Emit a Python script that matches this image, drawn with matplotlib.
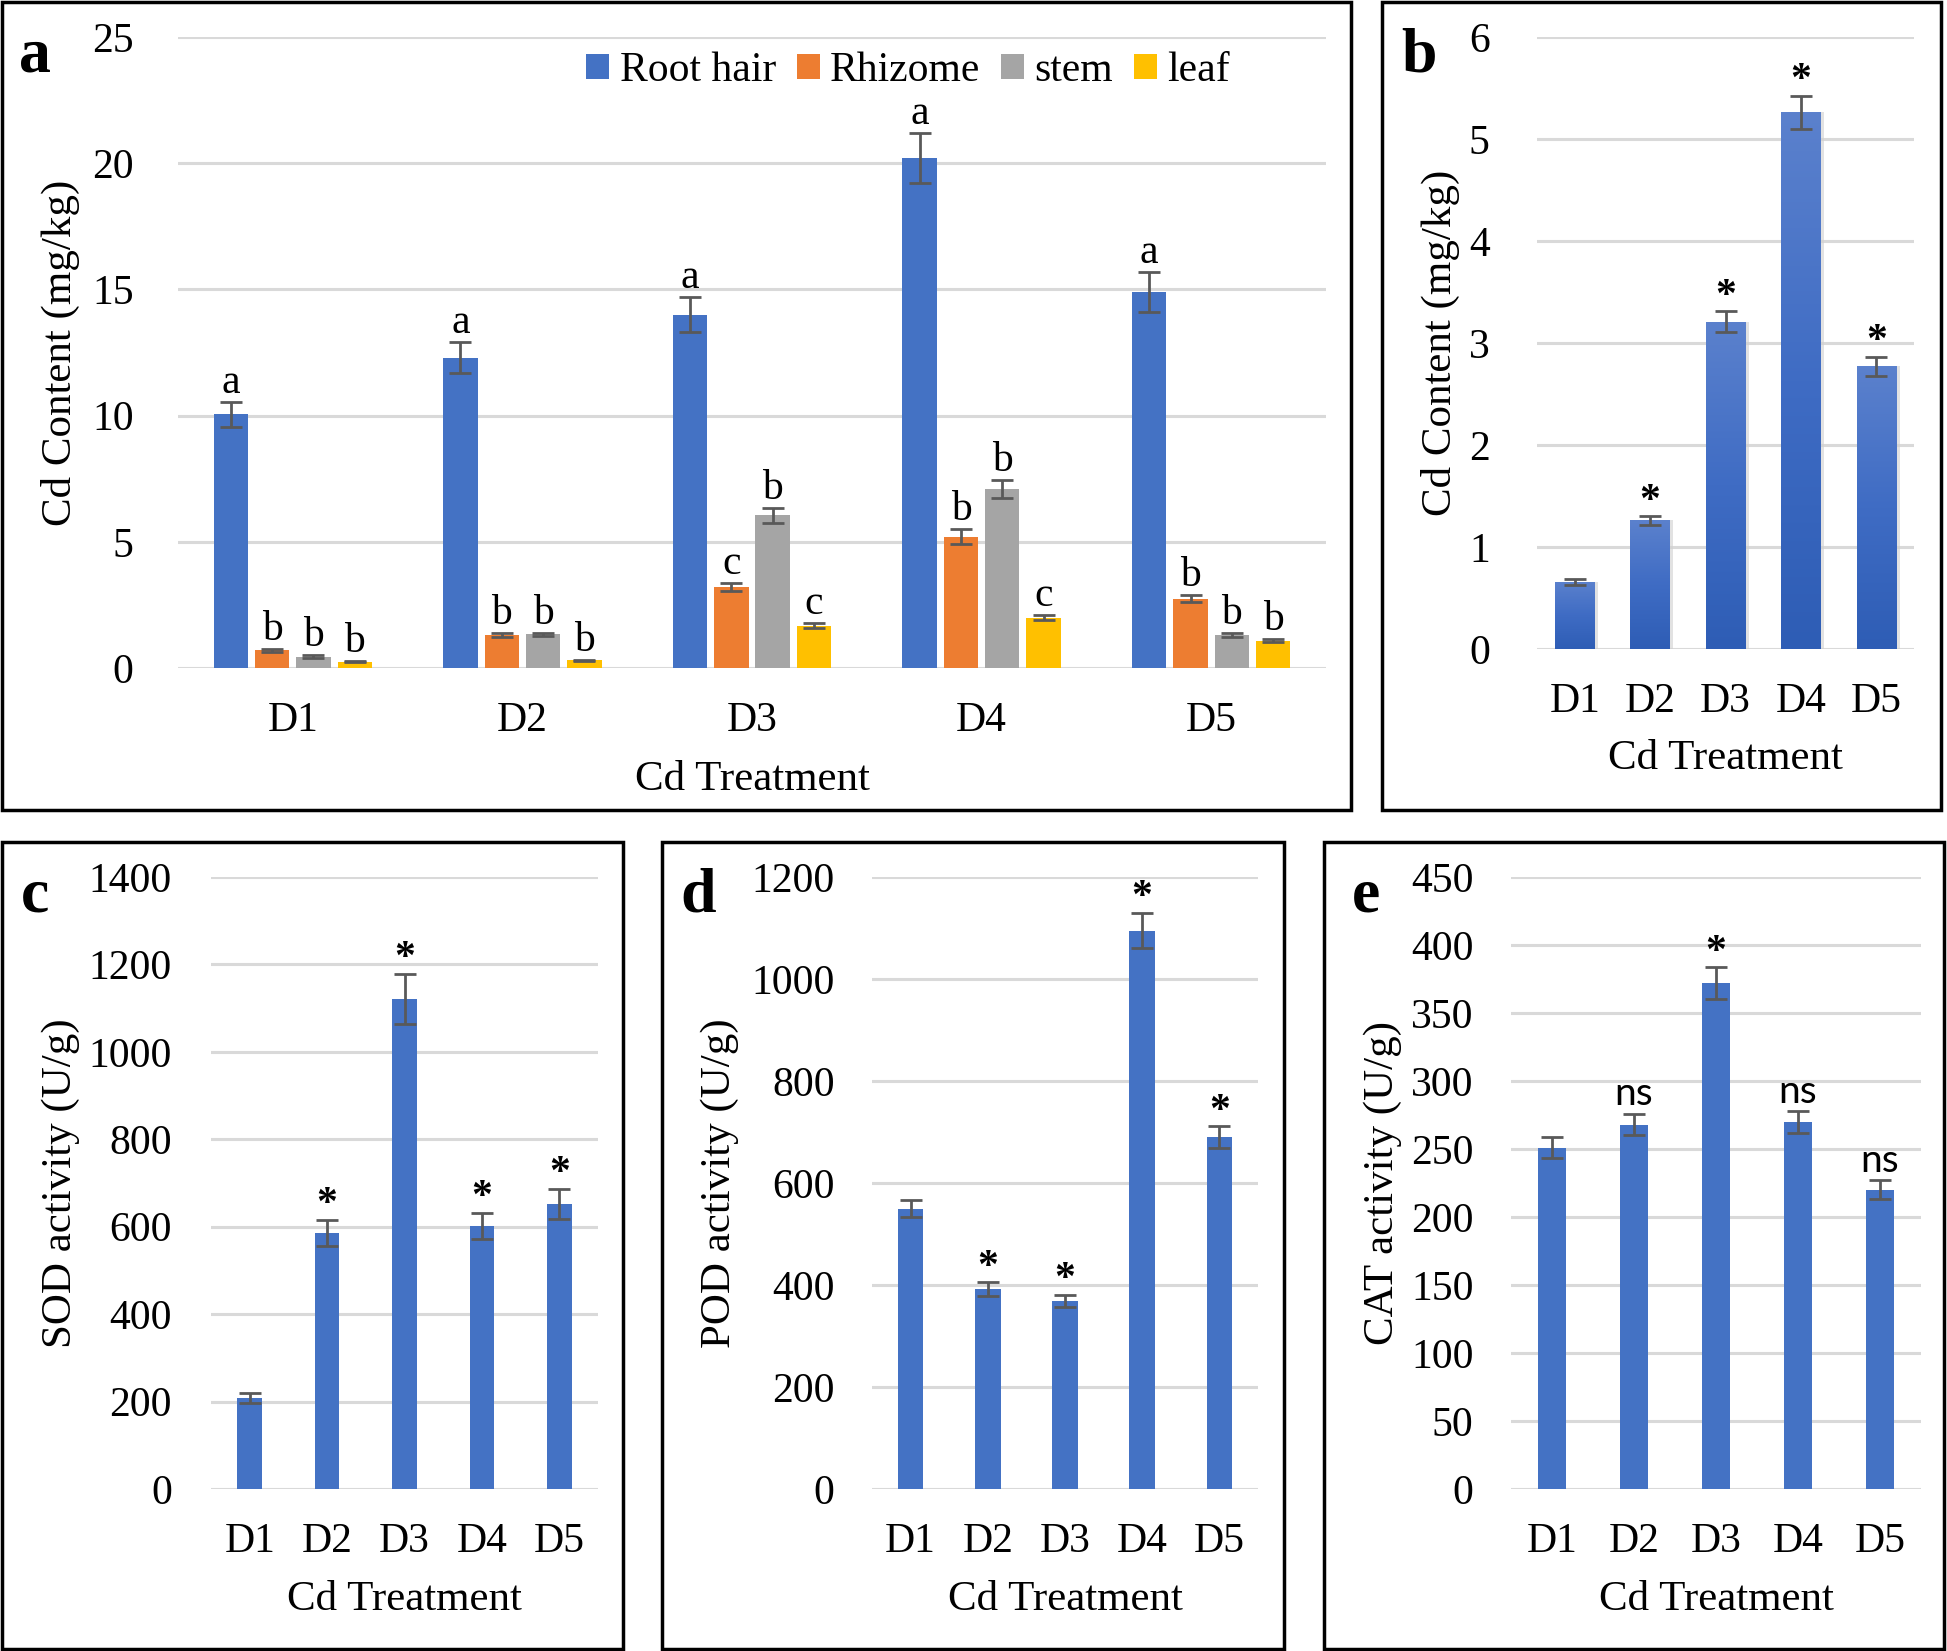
import numpy as np
import matplotlib
matplotlib.use('Agg')
import matplotlib.pyplot as plt
from matplotlib.patches import Rectangle
from matplotlib.colors import LinearSegmentedColormap

plt.rcParams['font.family'] = 'Liberation Serif'

W, H = 1947, 1651

doses = ['D1', 'D2', 'D3', 'D4', 'D5']

# panel a - Cd content in each organ
organs = ['Root hair', 'Rhizome', 'stem', 'leaf']
organ_colors = ['#4472C4', '#ED7D31', '#A5A5A5', '#FFC000']
root_hair = [10.05, 12.3, 14.0, 20.2, 14.9]
root_hair_err = [0.5, 0.6, 0.7, 1.0, 0.8]
rhizome = [0.7, 1.3, 3.2, 5.2, 2.75]
rhizome_err = [0.05, 0.07, 0.15, 0.3, 0.15]
stem = [0.45, 1.33, 6.05, 7.1, 1.3]
stem_err = [0.05, 0.07, 0.3, 0.35, 0.07]
leaf = [0.25, 0.3, 1.67, 2.0, 1.08]
leaf_err = [0.03, 0.03, 0.1, 0.1, 0.05]
root_hair_sig = ['a', 'a', 'a', 'a', 'a']
rhizome_sig = ['b', 'b', 'c', 'b', 'b']
stem_sig = ['b', 'b', 'b', 'b', 'b']
leaf_sig = ['b', 'b', 'c', 'c', 'b']

# panel b - whole plant Cd content
cd_total = [0.66, 1.26, 3.21, 5.26, 2.77]
cd_total_err = [0.03, 0.04, 0.1, 0.16, 0.09]
cd_total_sig = ['', '*', '*', '*', '*']

# panels c, d, e - enzyme activities
sod = [208, 586, 1121, 602, 652]
sod_err = [12, 30, 57, 30, 34]
sod_sig = ['', '*', '*', '*', '*']
pod = [550, 392, 369, 1095, 690]
pod_err = [17, 13, 12, 34, 21]
pod_sig = ['', '*', '*', '*', '*']
cat = [251, 268, 372, 270, 220]
cat_err = [7.5, 8, 11.5, 8, 7]
cat_sig = ['', 'ns', '*', 'ns', 'ns']

BLUE = '#4472C4'
GRID = '#D9D9D9'
ERR = '#595959'
FS = 30


def px_box(x0, y0, x1, y1):
    return [x0 / W, 1 - y1 / H, (x1 - x0) / W, (y1 - y0) / H]


def frame(x0, y0, x1, y1):
    fig.add_artist(Rectangle((x0 / W, 1 - y1 / H), (x1 - x0) / W, (y1 - y0) / H,
                             transform=fig.transFigure, fill=False, lw=2.5, ec='black'))


def style(ax, box, ymax, step, ylabel, ylab_x, xlab_y, ypad):
    x0, y0, x1, y1 = box
    ax.set_xlim(-0.5, 4.5)
    ax.set_ylim(0, ymax)
    ax.set_yticks(np.arange(0, ymax + step / 2, step))
    ax.set_xticks(np.arange(5))
    ax.set_xticklabels(doses)
    ax.tick_params(axis='both', length=0, labelsize=FS)
    ax.tick_params(axis='y', pad=ypad)
    ax.tick_params(axis='x', pad=24)
    for s in ax.spines.values():
        s.set_visible(False)
    ax.yaxis.grid(True, color=GRID, lw=2.2)
    ax.set_axisbelow(True)
    ax.set_ylabel(ylabel, fontsize=31)
    ax.yaxis.set_label_coords((ylab_x - x0) / (x1 - x0), 0.5)
    ax.yaxis.label.set_va('center')
    ax.set_xlabel('Cd Treatment', fontsize=31)
    ax.xaxis.set_label_coords(0.5, (y1 - xlab_y) / (y1 - y0))
    ax.xaxis.label.set_va('center')


def mark(ax, xs, vals, errs, sigs):
    for x, v, e, s in zip(xs, vals, errs, sigs):
        if not s:
            continue
        if s == 'ns':
            ax.annotate(s, (x, v + e), xytext=(0, 1), textcoords='offset points',
                        ha='center', va='bottom', fontsize=28, family='Lato')
        elif s == '*':
            ax.annotate(s, (x, v + e), xytext=(0, -3), textcoords='offset points',
                        ha='center', va='bottom', fontsize=30, fontweight='bold')
        else:
            ax.annotate(s, (x, v + e), xytext=(0, 0), textcoords='offset points',
                        ha='center', va='bottom', fontsize=FS)


fig = plt.figure(figsize=(W / 100, H / 100), dpi=100)

# ---- panel a
box_a = (178, 37, 1326, 668)
ax = fig.add_axes(px_box(*box_a))
x = np.arange(len(doses))
series = [root_hair, rhizome, stem, leaf]
errors = [root_hair_err, rhizome_err, stem_err, leaf_err]
sigs = [root_hair_sig, rhizome_sig, stem_sig, leaf_sig]
handles = []
for i in range(4):
    xs = x + (i - 1.5) * 0.18
    b = ax.bar(xs, series[i], width=0.15, color=organ_colors[i], label=organs[i], zorder=2)
    handles.append(b)
    ax.errorbar(xs, series[i], yerr=errors[i], fmt='none', ecolor=ERR, elinewidth=2,
                capsize=8, capthick=2, zorder=3)
    mark(ax, xs, series[i], errors[i], sigs[i])
style(ax, box_a, 25, 5, 'Cd Content (mg/kg)', 60, 780, 32)
ax.legend(handles=handles, ncol=4, loc='center', bbox_to_anchor=(0.636, 0.946),
          frameon=False, fontsize=FS, handlelength=0.55, handleheight=0.55,
          handletextpad=0.25, columnspacing=0.5, borderaxespad=0)

# ---- panel b (gradient bars)
box_b = (1537, 37, 1914, 649)
ax = fig.add_axes(px_box(*box_b))
shadow = ax.bar(x + 0.03, cd_total, width=0.56, color='#cfcfcf', alpha=0.6, zorder=1)
bars = ax.bar(x, cd_total, width=0.52, color='none', zorder=2)
cmap = LinearSegmentedColormap.from_list('bgrad', ['#2e5db5', '#3f6cc4', '#5b81cd'])
grad = np.linspace(0, 1, 256).reshape(-1, 1)
for p in bars.patches:
    im = ax.imshow(grad, extent=[p.get_x(), p.get_x() + p.get_width(), 0, p.get_height()],
                   origin='lower', cmap=cmap, aspect='auto', zorder=2)
    im.set_clip_path(p)
ax.errorbar(x, cd_total, yerr=cd_total_err, fmt='none', ecolor=ERR, elinewidth=2,
            capsize=8, capthick=2, zorder=3)
mark(ax, x, cd_total, cd_total_err, cd_total_sig)
style(ax, box_b, 6, 1, 'Cd Content (mg/kg)', 1440, 759, 34)

# ---- panel c
box_c = (211, 877, 598, 1489)
ax = fig.add_axes(px_box(*box_c))
ax.bar(x, sod, width=0.32, color=BLUE, zorder=2)
ax.errorbar(x, sod, yerr=sod_err, fmt='none', ecolor=ERR, elinewidth=2,
            capsize=8, capthick=2, zorder=3)
mark(ax, x, sod, sod_err, sod_sig)
style(ax, box_c, 1400, 200, 'SOD activity (U/g)', 61, 1600, 28)

# ---- panel d
box_d = (872, 877, 1258, 1489)
ax = fig.add_axes(px_box(*box_d))
ax.bar(x, pod, width=0.33, color=BLUE, zorder=2)
ax.errorbar(x, pod, yerr=pod_err, fmt='none', ecolor=ERR, elinewidth=2,
            capsize=8, capthick=2, zorder=3)
mark(ax, x, pod, pod_err, pod_sig)
style(ax, box_d, 1200, 200, 'POD activity (U/g)', 720, 1600, 27)

# ---- panel e
box_e = (1511, 877, 1921, 1489)
ax = fig.add_axes(px_box(*box_e))
ax.bar(x, cat, width=0.33, color=BLUE, zorder=2)
ax.errorbar(x, cat, yerr=cat_err, fmt='none', ecolor=ERR, elinewidth=2,
            capsize=8, capthick=2, zorder=3)
mark(ax, x, cat, cat_err, cat_sig)
style(ax, box_e, 450, 50, 'CAT activity (U/g)', 1383, 1600, 27)

# panel frames and letters
frame(2, 2, 1351, 810)
frame(1382, 2, 1941, 810)
frame(2, 842, 623, 1649)
frame(662, 842, 1284, 1649)
frame(1324, 842, 1944, 1649)
for lab, px, py in [('a', 35, 56), ('b', 1419, 56), ('c', 35, 896),
                    ('d', 698, 896), ('e', 1366, 896)]:
    fig.text(px / W, 1 - py / H, lab, fontsize=46, fontweight='bold',
             ha='center', va='center')

fig.savefig('out.png', dpi=100)
